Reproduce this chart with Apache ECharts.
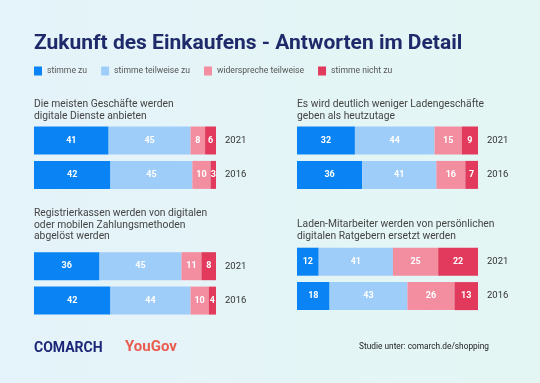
<!DOCTYPE html>
<html><head><meta charset="utf-8">
<script src="https://cdn.jsdelivr.net/npm/echarts@6/dist/echarts.min.js"></script>
<style>html,body{margin:0;padding:0;}#c{width:540px;height:383px;}</style>
</head><body><div id="c"></div>
<script>
const seriesNames = ['stimme zu', 'stimme teilweise zu', 'widerspreche teilweise', 'stimme nicht zu'];
const years = ['2021', '2016'];
const panelTitles = [
  'Die meisten Geschäfte werden\ndigitale Dienste anbieten',
  'Es wird deutlich weniger Ladengeschäfte\ngeben als heutzutage',
  'Registrierkassen werden von digitalen\noder mobilen Zahlungsmethoden\nabgelöst werden',
  'Laden-Mitarbeiter werden von persönlichen\ndigitalen Ratgebern ersetzt werden'
];
// values per panel: [series][year index: 2021, 2016]
const panel1 = [[41, 42], [45, 45], [8, 10], [6, 3]];
const panel2 = [[32, 36], [44, 41], [15, 16], [9, 7]];
const panel3 = [[36, 42], [45, 44], [11, 10], [8, 4]];
const panel4 = [[12, 18], [41, 43], [25, 26], [22, 13]];
const panels = [panel1, panel2, panel3, panel4];

const colors = ['#0a84f5', '#9fcdf9', '#f28ea0', '#e13a5c'];
const grids = [
  {left: 34, top: 123.3, width: 182, height: 68.8},
  {left: 297, top: 123.3, width: 181, height: 68.8},
  {left: 34, top: 249, width: 182, height: 68.8},
  {left: 297, top: 244.5, width: 181, height: 68.8}
];
const titlePos = [[34, 99], [297, 99], [34, 208], [297, 219]];
const font = 'Roboto, "Noto Sans", sans-serif';

const xAxis = [], yAxis = [], series = [];
grids.forEach((g, i) => {
  xAxis.push({gridIndex: i, type: 'value', min: 0, max: 100, show: false});
  yAxis.push({gridIndex: i, type: 'category', data: years, inverse: true, position: 'right',
    axisLine: {show: false}, axisTick: {show: false},
    axisLabel: {color: '#333', fontSize: 9.5, fontFamily: font, margin: 9}});
  panels[i].forEach((vals, s) => {
    series.push({type: 'bar', name: seriesNames[s], xAxisIndex: i, yAxisIndex: i, stack: 'p' + i,
      data: vals, barWidth: 28, itemStyle: {color: colors[s]},
      label: {show: true, position: 'inside', color: '#fff', fontWeight: 'bold', fontSize: 9, fontFamily: font}});
  });
});

const graphic = [
  {type: 'text', left: 34, top: 33, style: {text: 'Zukunft des Einkaufens - Antworten im Detail',
    fill: '#1f2a6b', font: 'bold 21px ' + font}},
  {type: 'text', left: 34, top: 341, style: {text: 'COMARCH', fill: '#1b2678', font: 'bold 14px ' + font}},
  {type: 'text', left: 125, top: 340, style: {text: 'YouGov', fill: '#ea5b50', font: 'bold 15px ' + font}},
  {type: 'text', right: 51, top: 342.5, style: {text: 'Studie unter: comarch.de/shopping', fill: '#222', font: '8.3px ' + font}}
];
titlePos.forEach((p, i) => {
  graphic.push({type: 'text', left: p[0], top: p[1], style: {text: panelTitles[i], fill: '#444',
    font: '10.3px ' + font, lineHeight: 11.5}});
});

const chart = echarts.init(document.getElementById('c'));
chart.setOption({
  backgroundColor: new echarts.graphic.LinearGradient(0, 0, 1, 0, [{offset: 0, color: '#e5f3fa'}, {offset: 1, color: '#e3f6f3'}]),
  animation: false,
  legend: {left: 29, top: 61.5, itemWidth: 8, itemHeight: 9, itemGap: 14, icon: 'rect',
    textStyle: {color: '#555', fontSize: 8.6, fontFamily: font},
    data: seriesNames},
  grid: grids,
  xAxis, yAxis, series, graphic
});
</script></body></html>
